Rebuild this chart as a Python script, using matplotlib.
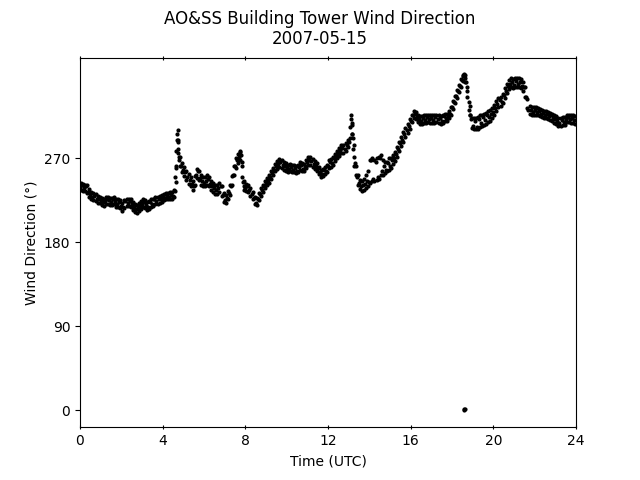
import numpy as np
import matplotlib
matplotlib.use("Agg")
import matplotlib.pyplot as plt

# Wind direction (deg), middle of the band, every 0.1 h from 0 to 24 UTC
DIRECTION = [
    239, 241, 238, 240, 234, 232, 229, 230, 226, 227,   # 0 h
    225, 223, 224, 226, 225, 223, 226, 224, 221, 223,   # 1 h
    219, 218, 224, 222, 224, 221, 218, 216, 217, 219,   # 2 h
    221, 223, 220, 218, 223, 221, 226, 224, 227, 226,   # 3 h
    229, 228, 230, 229, 231, 230, 235, 296, 272, 262,   # 4 h
    258, 255, 250, 247, 243, 240, 252, 256, 249, 246,   # 5 h
    244, 246, 248, 243, 240, 238, 236, 238, 240, 231,   # 6 h
    225, 228, 233, 240, 252, 262, 268, 272, 274, 245,   # 7 h
    238, 240, 236, 232, 228, 222, 226, 232, 236, 240,   # 8 h
    244, 247, 250, 254, 258, 262, 264, 266, 263, 262,   # 9 h
    260, 259, 261, 258, 260, 257, 261, 263, 259, 262,   # 10 h
    266, 268, 267, 264, 262, 260, 255, 253, 258, 256,   # 11 h
    262, 266, 265, 270, 273, 276, 279, 281, 280, 284,   # 12 h
    288, 312, 292, 265, 250, 244, 240, 241, 243, 246,   # 13 h
    245, 268, 248, 266, 250, 270, 256, 262, 258, 265,   # 14 h
    262, 268, 270, 275, 280, 286, 290, 296, 300, 305,   # 15 h
    310, 316, 318, 314, 312, 310, 313, 311, 314, 312,   # 16 h
    313, 311, 314, 312, 313, 310, 315, 313, 316, 318,   # 17 h
    325, 330, 337, 342, 348, 354, 360, 352, 330, 312,   # 18 h
    305, 310, 304, 312, 308, 314, 311, 316, 314, 318,   # 19 h
    320, 324, 328, 333, 330, 338, 342, 348, 350, 352,   # 20 h
    349, 353, 350, 352, 348, 347, 336, 322, 322, 320,   # 21 h
    322, 320, 321, 318, 319, 316, 318, 315, 316, 313,   # 22 h
    312, 310, 308, 311, 309, 312, 314, 312, 313, 311,   # 23 h
    311,
]

# upper and lower edge of the noisy band, read at 0.05, 0.15, ... 23.95 h
UPPER = [
    244, 243, 242, 241, 237, 234, 233, 232, 230, 229,
    228, 227, 229, 229, 228, 228, 229, 226, 226, 225,
    222, 225, 227, 227, 226, 223, 221, 220, 222, 224,
    226, 225, 223, 224, 226, 227, 229, 229, 230, 231,
    232, 233, 233, 234, 234, 236, 260, 290, 272, 265,
    261, 257, 253, 250, 246, 251, 259, 257, 252, 250,
    250, 252, 250, 246, 244, 242, 242, 244, 240, 233,
    231, 235, 241, 251, 262, 270, 275, 278, 266, 246,
    243, 242, 238, 234, 229, 228, 233, 238, 242, 246,
    249, 252, 256, 260, 264, 267, 269, 268, 266, 265,
    263, 264, 263, 263, 262, 263, 266, 265, 264, 268,
    271, 271, 269, 267, 265, 261, 258, 259, 261, 263,
    268, 269, 271, 275, 278, 281, 284, 284, 286, 290,
    304, 308, 284, 262, 252, 247, 246, 248, 252, 256,
    268, 270, 268, 270, 272, 274, 268, 266, 266, 270,
    270, 274, 277, 282, 288, 293, 298, 303, 307, 312,
    317, 321, 320, 317, 315, 315, 316, 316, 317, 316,
    316, 316, 317, 316, 315, 316, 318, 318, 321, 325,
    331, 337, 343, 349, 355, 359, 359, 346, 326, 313,
    313, 313, 314, 316, 317, 318, 319, 321, 322, 324,
    327, 331, 335, 336, 339, 345, 350, 354, 356, 355,
    356, 356, 356, 355, 352, 346, 334, 326, 325, 325,
    325, 324, 323, 322, 321, 321, 320, 319, 318, 316,
    315, 313, 313, 314, 314, 317, 317, 316, 316, 315,
]
LOWER = [
    236, 235, 235, 233, 229, 227, 225, 224, 222, 222,
    220, 219, 221, 221, 220, 220, 221, 218, 218, 217,
    214, 217, 219, 219, 218, 215, 213, 212, 214, 216,
    218, 217, 215, 216, 218, 219, 221, 221, 222, 223,
    225, 226, 226, 227, 227, 229, 245, 276, 262, 255,
    251, 247, 243, 240, 236, 241, 249, 247, 242, 240,
    240, 242, 240, 236, 234, 232, 232, 234, 230, 223,
    222, 226, 231, 241, 252, 260, 265, 268, 250, 236,
    235, 234, 230, 226, 221, 220, 225, 230, 234, 238,
    241, 244, 248, 252, 256, 259, 261, 260, 258, 257,
    255, 256, 255, 255, 254, 255, 258, 257, 256, 260,
    263, 263, 261, 259, 257, 253, 250, 251, 253, 255,
    260, 261, 263, 267, 270, 273, 276, 276, 278, 282,
    292, 296, 272, 252, 242, 237, 235, 236, 238, 240,
    244, 246, 246, 247, 248, 252, 252, 254, 256, 258,
    260, 264, 267, 272, 278, 283, 288, 293, 297, 302,
    309, 313, 312, 309, 307, 307, 308, 308, 309, 308,
    308, 308, 309, 308, 307, 308, 310, 310, 313, 317,
    323, 329, 335, 341, 347, 353, 352, 336, 316, 303,
    301, 301, 302, 304, 305, 306, 307, 309, 310, 313,
    317, 321, 325, 326, 329, 335, 340, 344, 346, 345,
    346, 346, 346, 345, 342, 336, 324, 318, 317, 317,
    317, 316, 315, 314, 313, 313, 312, 311, 310, 308,
    307, 305, 305, 306, 306, 309, 309, 308, 308, 307,
]

# extra samples in the fast swings (and the 0 deg readings near 18.6 h)
EXTRA_HOURS = [4.62, 4.64, 4.66, 4.68, 4.72, 4.74, 4.76, 4.78,
               7.75, 7.85, 7.95,
               13.12, 13.15, 13.17, 13.22, 13.25,
               18.55, 18.65, 18.75, 18.8, 18.85,
               18.56, 18.6, 18.64]
EXTRA_DIRECTION = [250, 262, 278, 290, 300, 288, 280, 268,
                   277, 262, 240,
                   316, 306, 296, 280, 262,
                   358, 356, 342, 322, 316,
                   1, 0, 2]

hours_mid = np.round(np.arange(len(DIRECTION)) * 0.1, 2)
hours_edge = np.round(np.arange(len(UPPER)) * 0.1 + 0.05, 2)

hours = np.concatenate([hours_mid, hours_edge, hours_edge, EXTRA_HOURS])
direction = np.concatenate([DIRECTION, UPPER, LOWER, EXTRA_DIRECTION])

fig, ax = plt.subplots(figsize=(6.4, 4.8), dpi=100)
ax.plot(hours, direction, "ko", markersize=2)

fig.suptitle("AO&SS Building Tower Wind Direction\n2007-05-15")
ax.set_xlabel("Time (UTC)")
ax.set_ylabel("Wind Direction (°)")
ax.set_xlim(0, 24)
ax.set_xticks(range(0, 25, 4))
ax.set_yticks([0, 90, 180, 270])
ax.tick_params(axis="x", direction="inout", top=True)

plt.savefig("out.png")
